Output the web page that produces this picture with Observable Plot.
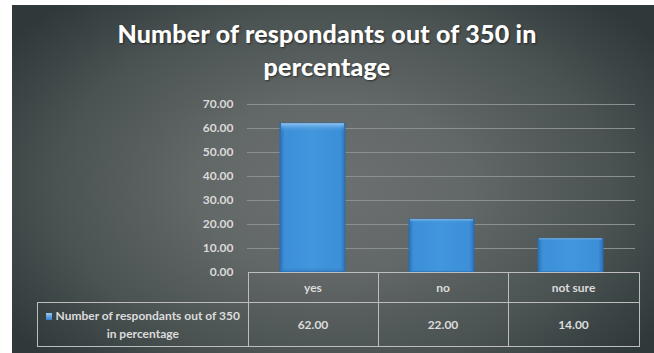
<!DOCTYPE html>
<html><head><meta charset="utf-8">
<script src="https://cdn.jsdelivr.net/npm/d3@7"></script>
<script src="https://cdn.jsdelivr.net/npm/@observablehq/plot@0.6"></script>
<style>
body{margin:0;background:#fff;width:654px;height:353px;overflow:hidden;font-family:Lato,sans-serif;position:relative;}
#panel{position:absolute;left:12px;top:5px;width:642px;height:348px;background:radial-gradient(ellipse 62% 72% at 50% 52%, #6c7070 0%, #626767 35%, #4a5252 70%, #2f3939 100%);}
#title{position:absolute;left:0;top:17px;width:654px;text-align:center;color:#fff;font-weight:900;font-size:25px;line-height:33px;letter-spacing:0.2px;text-shadow:1px 1px 2px rgba(0,0,0,.55);}
#chart{position:absolute;left:0;top:90px;}
#tbl{position:absolute;left:37px;top:272px;border-collapse:collapse;color:#dcdcdc;font-size:12px;font-weight:bold;}
#tbl td{border:1px solid #bdbdbd;text-align:center;padding:0;}
#tbl td.blank{border-top:none;border-left:none;}
.sw{display:inline-block;width:6px;height:7px;background:linear-gradient(#9cc8f0,#2f7fd0);margin-right:4px;vertical-align:0px;}
</style></head>
<body>
<div id="panel"></div>
<div id="title"></div>
<div id="chart"></div>
<table id="tbl"></table>
<script>
const titleLines = ["Number of respondants out of 350 in", "percentage"];
const categories = ["yes", "no", "not sure"];
const values = [62.00, 22.00, 14.00];
const yTicks = [0, 10, 20, 30, 40, 50, 60, 70];
const seriesLines = ["Number of respondants out of 350", "in percentage"];

document.getElementById("title").innerHTML = titleLines.join("<br>");

const data = categories.map((c, i) => ({category: c, value: values[i]}));

const chart = Plot.plot({
  width: 654, height: 192,
  marginLeft: 247, marginRight: 19, marginTop: 14, marginBottom: 10,
  style: {background: "transparent", fontFamily: "Lato, sans-serif", fontSize: "12px", fontWeight: "bold", color: "#dadada", overflow: "visible"},
  x: {domain: categories, paddingInner: 0.5, paddingOuter: 0.25, axis: null},
  y: {domain: [0, 70], ticks: yTicks, tickFormat: d => d.toFixed(2), label: null, tickSize: 0, tickPadding: 14},
  marks: [
    Plot.ruleY(yTicks.filter(t => t > 0), {stroke: "#8a8f8f", strokeWidth: 1}),
    Plot.barY(data, {x: "category", y: "value", fill: "url(#barGrad)", stroke: "#2a6cae", strokeWidth: 1}),
    Plot.barY(data, {x: "category", y: "value", fill: "url(#barTop)", insetLeft: 1, insetRight: 1})
  ]
});
const svg = d3.select(chart);
const defs = svg.insert("defs", ":first-child");
const g1 = defs.append("linearGradient").attr("id", "barGrad").attr("x1", 0).attr("x2", 1).attr("y1", 0).attr("y2", 0);
[[0, "#2d72bb"], [0.07, "#3c8fd8"], [0.5, "#4196dc"], [0.93, "#3c8fd8"], [1, "#2d72bb"]].forEach(([o, c]) => g1.append("stop").attr("offset", o).attr("stop-color", c));
const g2 = defs.append("linearGradient").attr("id", "barTop").attr("x1", 0).attr("x2", 0).attr("y1", 0).attr("y2", 1).attr("gradientUnits", "objectBoundingBox");
[[0, "#9fcdf3", 0.9], [0.03, "#6fb0ea", 0.4], [0.06, "#4196dc", 0], [0.96, "#4196dc", 0], [1, "#2a6cae", 0.6]].forEach(([o, c, a]) => g2.append("stop").attr("offset", o).attr("stop-color", c).attr("stop-opacity", a));
document.getElementById("chart").appendChild(chart);

const tbl = d3.select("#tbl");
const colW = [210, 129, 129, 130];
const head = tbl.append("tr").style("height", "30px");
head.append("td").attr("class", "blank").style("width", colW[0] + "px");
categories.forEach((c, i) => head.append("td").style("width", colW[i + 1] + "px").text(c));
const row = tbl.append("tr").style("height", "44px");
row.append("td").html('<span class="sw"></span>' + seriesLines.join("<br>")).style("line-height", "18px");
values.forEach(v => row.append("td").text(v.toFixed(2)));
</script>
</body></html>
